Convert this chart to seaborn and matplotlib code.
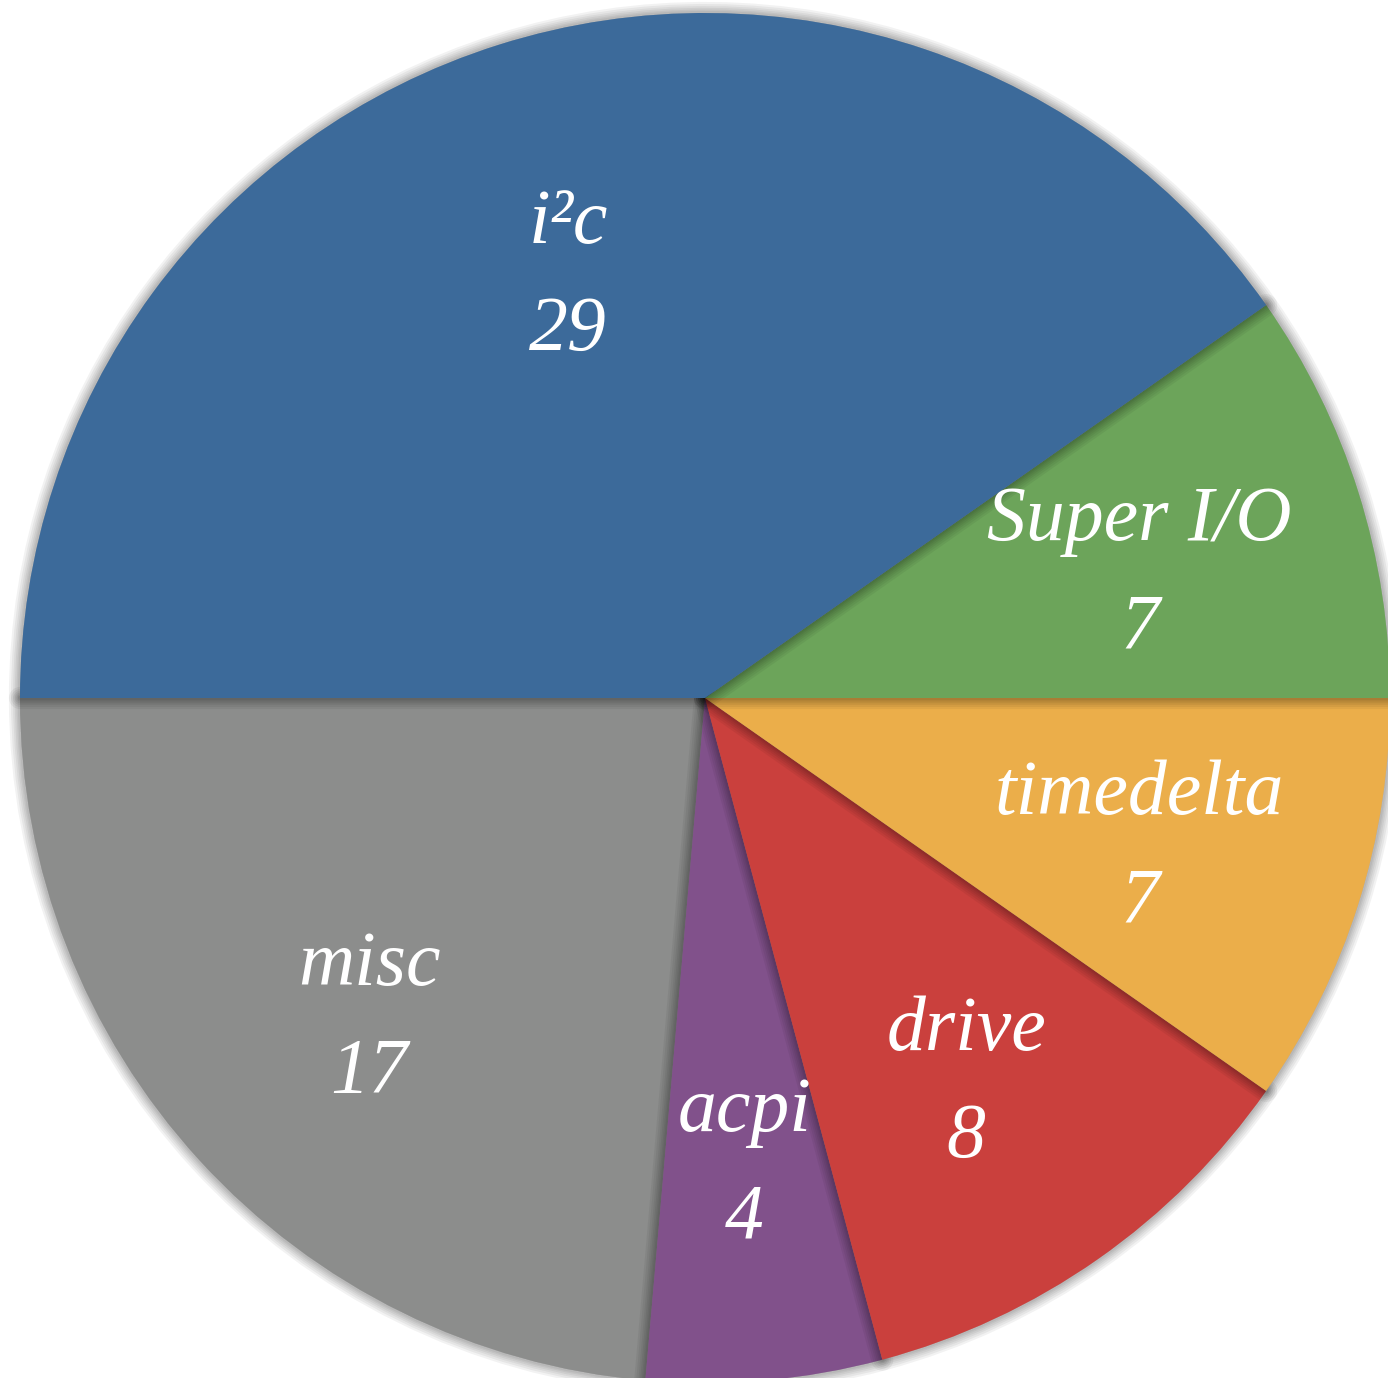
import numpy as np
import matplotlib
matplotlib.use("Agg")
import matplotlib.pyplot as plt
import matplotlib.patheffects as pe
import matplotlib.transforms as mtransforms
import seaborn as sns

# Subsystem breakdown
categories = ["i²c", "Super I/O", "timedelta", "drive", "acpi", "misc"]
counts = [29, 7, 7, 8, 4, 17]
palette_hex = ["#3C6A9A", "#6CA45A", "#EBAE4A", "#CA403D", "#81518B", "#8C8D8C"]

sns.set_theme(style="white")
plt.rcParams["font.family"] = ["Liberation Serif", "DejaVu Serif"]

colors = sns.color_palette(palette_hex)

fig = plt.figure(figsize=(13.88, 13.78), dpi=100)
ax = fig.add_axes([0, 0, 1, 1])

wedges, _ = ax.pie(
    counts,
    colors=colors,
    startangle=180,
    counterclock=False,
    radius=1.0,
    wedgeprops=dict(linewidth=0),
)

# soft shadow cast by each wedge onto its neighbours
shadow = [
    pe.Stroke(linewidth=w, foreground="black", alpha=0.05, joinstyle="round")
    for w in (16, 13, 10, 7.5, 5, 3)
] + [pe.Normal()]

n = len(wedges)
for i, w in enumerate(wedges):
    w.set_zorder(1 + (n - i) * 0.1)
    w.set_path_effects(shadow)

# labels with counts, placed along each wedge's mid-angle
label_r = 0.665
nudge = mtransforms.offset_copy(ax.transData, fig=fig, x=0, y=-10, units="points")
for w, cat, val in zip(wedges, categories, counts):
    mid = np.deg2rad((w.theta1 + w.theta2) / 2)
    x, y = label_r * np.cos(mid), label_r * np.sin(mid)
    ax.text(x, y, f"{cat}\n{val}", ha="center", va="center",
            fontsize=56, style="italic", color="white",
            linespacing=1.65, zorder=5, transform=nudge)

px_per_unit = 685
cx, cy = 705, 698
ax.set_xlim(-cx / px_per_unit, (1388 - cx) / px_per_unit)
ax.set_ylim(-(1378 - cy) / px_per_unit, cy / px_per_unit)
ax.set_aspect("equal", adjustable="datalim")
ax.axis("off")

fig.savefig("out.png", dpi=100, facecolor="white")
